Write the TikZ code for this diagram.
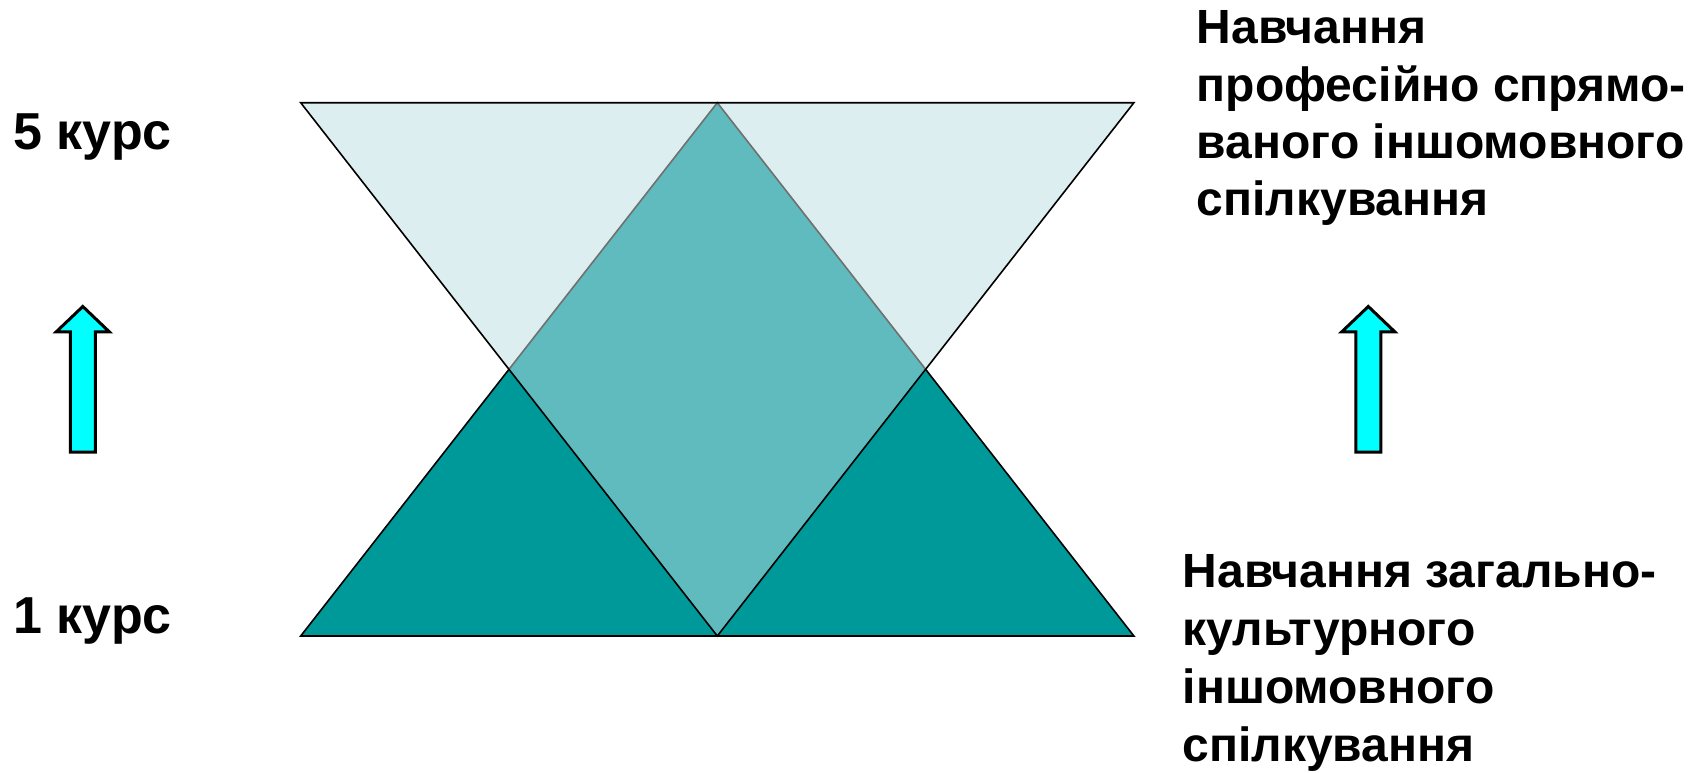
\documentclass[tikz,border=0pt]{standalone}
\usepackage{fontspec}
\setmainfont{Liberation Sans}
\begin{document}
\begin{tikzpicture}[x=0.5pt,y=-0.5pt,
  lightfill/.style={fill=lightteal,draw=none},
  midfill/.style={fill=midteal,draw=none},
  darkfill/.style={fill=darkteal,draw=none},
  edge/.style={draw=black,line width=0.8pt,line join=miter},
  greyedge/.style={draw=edgegrey,line width=0.8pt},
  uparrow/.style={fill=arrowcyan,draw=black,line width=1.5pt,line join=miter},
  lbl/.style={font=\bfseries\fontsize{26}{28.75}\selectfont,inner sep=0pt,anchor=base west},
  rlbl/.style={font=\bfseries\fontsize{24}{28.75}\selectfont,inner sep=0pt,anchor=base west}]
\definecolor{lightteal}{HTML}{DDEEF0}
\definecolor{midteal}{HTML}{5FBBBD}
\definecolor{darkteal}{HTML}{009999}
\definecolor{edgegrey}{HTML}{707070}
\definecolor{arrowcyan}{HTML}{00FFFF}
\useasboundingbox (0,0) rectangle (1704,772);
% key points
\coordinate (A) at (300.7,102.7);
\coordinate (B) at (717.3,102.7);
\coordinate (C) at (1133.9,102.7);
\coordinate (D) at (300.7,636);
\coordinate (E) at (717.3,636);
\coordinate (F) at (1133.9,636);
\coordinate (X1) at (509,369.3);
\coordinate (X2) at (925.6,369.3);
% fills
\path[lightfill] (A) -- (B) -- (X1) -- cycle;
\path[lightfill] (B) -- (C) -- (X2) -- cycle;
\path[midfill] (B) -- (X2) -- (E) -- (X1) -- cycle;
\path[darkfill] (D) -- (X1) -- (E) -- cycle;
\path[darkfill] (E) -- (X2) -- (F) -- cycle;
% outlines
\draw[greyedge] (X1) -- (B) -- (X2);
\draw[edge] (A) -- (C) -- (E) -- cycle;
\draw[edge] (X1) -- (D) -- (F) -- (X2);
% arrows
\draw[uparrow] (82.8,306.5) -- (109.3,331.8) -- (95.3,331.8) -- (95.3,452) -- (70.3,452) -- (70.3,331.8) -- (56.3,331.8) -- cycle;
\draw[uparrow] (1368.3,306.5) -- (1394.8,331.8) -- (1380.8,331.8) -- (1380.8,452) -- (1355.8,452) -- (1355.8,331.8) -- (1341.8,331.8) -- cycle;
% labels
\node[lbl] (k5) at (13,149) {5 курс};
\node[lbl] (k1) at (13,633.5) {1 курс};
\node[rlbl] (p1) at (1196.5,43.5) {Навчання};
\node[rlbl] (p2) at (1196.5,101) {професійно спрямо-};
\node[rlbl] (p3) at (1196.5,158) {ваного іншомовного};
\node[rlbl] (p4) at (1196.5,215) {спілкування};
\node[rlbl] (g1) at (1182.3,587) {Навчання загально-};
\node[rlbl] (g2) at (1182.3,645) {культурного};
\node[rlbl] (g3) at (1182.3,703) {іншомовного};
\node[rlbl] (g4) at (1182.3,761) {спілкування};
\end{tikzpicture}
\end{document}
